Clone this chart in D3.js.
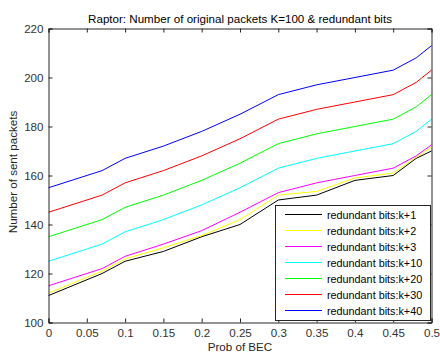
<!DOCTYPE html>
<html><head><meta charset="utf-8">
<script src="https://cdn.jsdelivr.net/npm/d3@7"></script>
<style>body{margin:0;background:#fff}svg{display:block}text{font-family:"Liberation Sans",Arial,sans-serif}</style>
</head><body><svg id="c" width="440" height="354"></svg>
<script>
const xValues = [0, 0.07, 0.1, 0.15, 0.2, 0.25, 0.3, 0.35, 0.4, 0.45, 0.48, 0.5];
const seriesNames = ["redundant bits:k+1","redundant bits:k+2","redundant bits:k+3","redundant bits:k+10","redundant bits:k+20","redundant bits:k+30","redundant bits:k+40"];
const k1  = [111,120,125,129,135,140,150,152,158,160,167,170];
const k2  = [112,121,126,130.5,135.5,142,152,153.5,159,161,167.5,171.5];
const k3  = [115,122,127,132,137.5,145,153,157,160,163,168,172.5];
const k10 = [125,132,137,142,148,155,163,167,170,173,178,183];
const k20 = [135,142,147,152,158,165,173,177,180,183,188,193];
const k30 = [145,152,157,162,168,175,183,187,190,193,198,203];
const k40 = [155,162,167,172,178,185,193,197,200,203,208,213];
const colors = ["#000000","#ffff00","#ff00ff","#00ffff","#00ff00","#ff0000","#0000ff"];
const xTicks = [0,0.05,0.1,0.15,0.2,0.25,0.3,0.35,0.4,0.45,0.5];
const xTickLabels = ["0","0.05","0.1","0.15","0.2","0.25","0.3","0.35","0.4","0.45","0.5"];
const yTicks = [100,120,140,160,180,200,220];
const titleText = "Raptor: Number of original packets K=100 & redundant bits";
const xLabel = "Prob of BEC";
const yLabel = "Number of sent packets";

const series = [k1,k2,k3,k10,k20,k30,k40];
const L=48.5, R=431.5, T=28.5, B=322.5;
const FS = "11.6px";
const svg = d3.select("#c");
const x = d3.scaleLinear().domain([0,0.5]).range([L,R]);
const y = d3.scaleLinear().domain([100,220]).range([B,T]);
const axCol = "#262626";

// lines
const line = d3.line().x((d,i)=>x(xValues[i])).y(d=>y(d));
series.forEach((s,i)=>{
  svg.append("path").datum(s).attr("d",line).attr("fill","none")
    .attr("stroke",colors[i]).attr("stroke-width",1);
});

// axes
const gx = svg.append("g").attr("transform",`translate(0,${B})`)
  .call(d3.axisBottom(x).tickValues(xTicks).tickFormat((d,i)=>xTickLabels[i]).tickSize(-4).tickPadding(6));
const gy = svg.append("g").attr("transform",`translate(${L},0)`)
  .call(d3.axisLeft(y).tickValues(yTicks).tickSize(-4).tickPadding(5));
const gxt = svg.append("g").attr("transform",`translate(0,${T})`)
  .call(d3.axisTop(x).tickValues(xTicks).tickFormat("").tickSize(-4));
const gyr = svg.append("g").attr("transform",`translate(${R},0)`)
  .call(d3.axisRight(y).tickValues(yTicks).tickFormat("").tickSize(-4));
[gx,gy,gxt,gyr].forEach(g=>{
  g.select(".domain").attr("stroke",axCol);
  g.selectAll(".tick line").attr("stroke",axCol);
  g.selectAll(".tick text").attr("fill","#333").style("font-size",FS)
   .style("font-family",'"Liberation Sans",Arial,sans-serif');
});

// legend
const lg = svg.append("g");
const lx0=275.5, ly0=205.5, lx1=430.5, ly1=320.5;
lg.append("rect").attr("x",lx0).attr("y",ly0).attr("width",lx1-lx0).attr("height",ly1-ly0)
  .attr("fill","#fff").attr("stroke",axCol).attr("stroke-width",1);
seriesNames.forEach((n,i)=>{
  const yy = 214.5 + i*16;
  lg.append("line").attr("x1",285).attr("x2",322).attr("y1",yy).attr("y2",yy)
    .attr("stroke",colors[i]).attr("stroke-width",1);
  lg.append("text").attr("x",327).attr("y",yy+4).text(n)
    .attr("fill","#000").style("font-size","10.8px");
});

// title & labels
svg.append("text").attr("x",240).attr("y",23).attr("text-anchor","middle")
  .style("font-size",FS).attr("fill","#000").text(titleText);
svg.append("text").attr("x",240).attr("y",351).attr("text-anchor","middle")
  .style("font-size",FS).attr("fill","#262626").text(xLabel);
svg.append("text").attr("transform","translate(17,172) rotate(-90)").attr("text-anchor","middle")
  .style("font-size",FS).attr("fill","#262626").text(yLabel);
</script></body></html>
